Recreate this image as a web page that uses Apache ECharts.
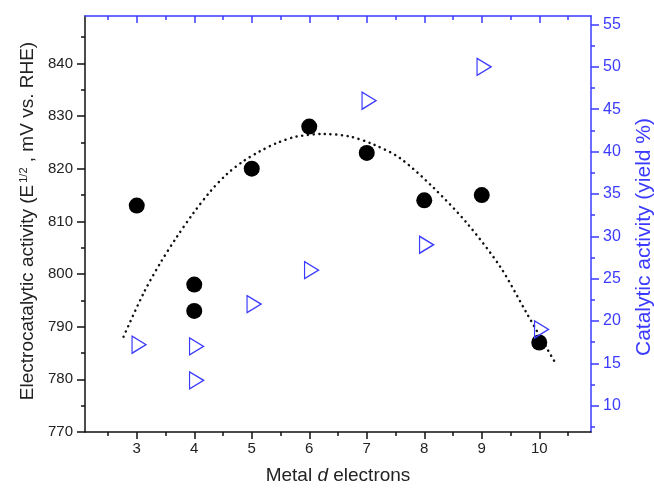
<!DOCTYPE html>
<html><head><meta charset="utf-8">
<script src="https://cdn.jsdelivr.net/npm/echarts@6/dist/echarts.min.js"></script>
<style>html,body{margin:0;padding:0;background:#fff}#c{width:654px;height:488px}</style>
</head><body><div id="c"></div>
<script>
const xTicks = [3, 4, 5, 6, 7, 8, 9, 10];
const xMinorTicks = [2.5, 3.5, 4.5, 5.5, 6.5, 7.5, 8.5, 9.5, 10.5];
const leftTicks = [770, 780, 790, 800, 810, 820, 830, 840];
const leftMinorTicks = [775, 785, 795, 805, 815, 825, 835, 845];
const rightTicks = [10, 15, 20, 25, 30, 35, 40, 45, 50, 55];
const rightMinorTicks = [7.5, 12.5, 17.5, 22.5, 27.5, 32.5, 37.5, 42.5, 47.5, 52.5];

const circleX = [3, 4, 4, 5, 6, 7, 8, 9, 10];
const circleY = [813, 798, 793, 820, 828, 823, 814, 815, 787];
const triX = [3, 4, 4, 5, 6, 7, 8, 9, 10];
const triY = [17.2, 17, 13, 22, 26, 46, 29, 50, 19];
const curveX = [2.77, 3.12, 3.41, 3.70, 3.98, 4.28, 4.57, 4.85, 5.14, 5.44, 5.78, 6.25, 6.71, 7.12, 7.58, 8.16, 8.74, 9.32, 9.78, 10.28];
const curveY = [788.1, 796.4, 802.1, 807.1, 811.5, 815.7, 819.0, 821.4, 823.3, 824.9, 826.1, 826.6, 826.1, 824.6, 822.0, 816.4, 809.7, 801.4, 792.6, 783.1];

const FONT = 'Liberation Sans, Arial, sans-serif';
const BLUE = '#3b3bff';
const BLACK = '#111';

const zip = (a, b) => a.map((v, i) => [v, b[i]]);

const hiddenLabel = { show: false };
const noSplit = { show: false };

const option = {
  animation: false,
  backgroundColor: '#fff',
  grid: { left: 85, right: 63, top: 16, bottom: 56, containLabel: false, outerBoundsMode: 'none' },
  xAxis: [
    {
      type: 'value', position: 'bottom', min: 2.1, max: 10.9,
      axisLine: { onZero: false, lineStyle: { color: BLACK, width: 1.5 } },
      axisTick: { customValues: xTicks, length: 7, inside: false, lineStyle: { color: BLACK, width: 1.5 } },
      axisLabel: { customValues: xTicks, fontSize: 15, color: '#222', margin: 9, fontFamily: FONT },
      splitLine: noSplit,
      name: 'Metal {i|d} electrons', nameLocation: 'middle', nameGap: 34,
      nameTextStyle: {
        fontSize: 19, color: '#222', fontFamily: FONT,
        rich: { i: { fontSize: 19, color: '#222', fontFamily: FONT, fontStyle: 'italic' } }
      }
    },
    {
      type: 'value', position: 'bottom', min: 2.1, max: 10.9,
      axisLine: { show: false, onZero: false },
      axisTick: { customValues: xMinorTicks, length: 4, inside: false, lineStyle: { color: BLACK, width: 1.5 } },
      axisLabel: hiddenLabel, splitLine: noSplit
    },
    {
      type: 'value', position: 'top', min: 2.1, max: 10.9,
      axisLine: { onZero: false, lineStyle: { color: BLUE, width: 1.5 } },
      axisTick: { customValues: xTicks, length: 7, inside: true, lineStyle: { color: BLUE, width: 1.5 } },
      axisLabel: hiddenLabel, splitLine: noSplit
    },
    {
      type: 'value', position: 'top', min: 2.1, max: 10.9,
      axisLine: { show: false, onZero: false },
      axisTick: { customValues: xMinorTicks, length: 4, inside: true, lineStyle: { color: BLUE, width: 1.5 } },
      axisLabel: hiddenLabel, splitLine: noSplit
    }
  ],
  yAxis: [
    {
      type: 'value', position: 'left', min: 770, max: 849,
      axisLine: { show: true, onZero: false, lineStyle: { color: BLACK, width: 1.5 } },
      axisTick: { show: true, customValues: leftTicks, length: 8, inside: false, lineStyle: { color: BLACK, width: 1.5 } },
      axisLabel: { customValues: leftTicks, fontSize: 15, color: '#222', margin: 12, fontFamily: FONT },
      splitLine: noSplit,
      name: 'Electrocatalytic activity (E{sup|1/2} , mV vs. RHE)', nameLocation: 'middle', nameGap: 48, nameRotate: 90,
      nameTextStyle: {
        fontSize: 19, color: '#222', fontFamily: FONT, padding: [0, 0, 0, 6],
        rich: { sup: { fontSize: 11, color: '#222', fontFamily: FONT, verticalAlign: 'top', lineHeight: 19, padding: [0, 0, 7, 2] } }
      }
    },
    {
      type: 'value', position: 'right', min: 6.9, max: 56,
      axisLine: { show: true, onZero: false, lineStyle: { color: BLUE, width: 1.5 } },
      axisTick: { show: true, customValues: rightTicks, length: 8, inside: false, lineStyle: { color: BLUE, width: 1.5 } },
      axisLabel: { customValues: rightTicks, fontSize: 16, color: BLUE, margin: 12, fontFamily: FONT },
      splitLine: noSplit,
      name: 'Catalytic activity (yield %)', nameLocation: 'middle', nameGap: 43, nameRotate: 90,
      nameTextStyle: { fontSize: 21, color: BLUE, fontFamily: FONT, padding: [0, 26, 0, 0] }
    },
    {
      type: 'value', position: 'left', min: 770, max: 849,
      axisLine: { show: false, onZero: false },
      axisTick: { show: true, customValues: leftMinorTicks, length: 4, inside: false, lineStyle: { color: BLACK, width: 1.5 } },
      axisLabel: hiddenLabel, splitLine: noSplit
    },
    {
      type: 'value', position: 'right', min: 6.9, max: 56,
      axisLine: { show: false, onZero: false },
      axisTick: { show: true, customValues: rightMinorTicks, length: 4, inside: false, lineStyle: { color: BLUE, width: 1.5 } },
      axisLabel: hiddenLabel, splitLine: noSplit
    }
  ],
  series: [
    {
      name: 'fit', type: 'line', xAxisIndex: 0, yAxisIndex: 0,
      data: zip(curveX, curveY), smooth: 0.3, showSymbol: false, symbol: 'none',
      lineStyle: { color: BLACK, width: 2.5, type: [0.1, 5.6], cap: 'round' },
      z: 2
    },
    {
      name: 'E12', type: 'scatter', xAxisIndex: 0, yAxisIndex: 0,
      data: zip(circleX, circleY), symbol: 'circle', symbolSize: 16,
      itemStyle: { color: '#000', opacity: 1 },
      z: 3
    },
    {
      name: 'yield', type: 'scatter', xAxisIndex: 0, yAxisIndex: 1,
      data: zip(triX, triY), symbol: 'triangle', symbolSize: [17, 14], symbolRotate: -90, symbolOffset: [2.3, 0],
      itemStyle: { color: 'rgba(255,255,255,0)', borderColor: BLUE, borderWidth: 1.3, opacity: 1 },
      z: 4
    }
  ]
};

const chart = echarts.init(document.getElementById('c'), null, { renderer: 'canvas' });
chart.setOption(option);
</script>
</body></html>
